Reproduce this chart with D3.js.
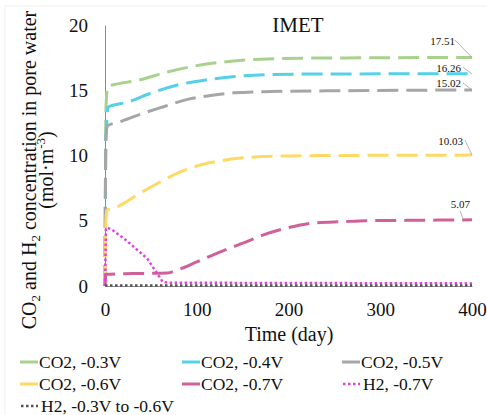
<!DOCTYPE html>
<html>
<head>
<meta charset="utf-8">
<script src="https://cdn.jsdelivr.net/npm/d3@7"></script>
<style>
  html, body { margin: 0; padding: 0; background: #fff; }
  svg { display: block; }
</style>
</head>
<body>
<svg id="chart" width="487" height="415"></svg>
<script>
// ---------------- data ----------------
const xTicks = [0, 100, 200, 300, 400];
const yTicks = [0, 5, 10, 15, 20];

const co2_03 = [[0,0],[1,13.5],[3,15.3],[8,15.4],[38,15.8],[68,16.4],[104,16.93],[140,17.24],[170,17.38],[220,17.46],[400,17.51]];
const co2_04 = [[0,0],[1,11.2],[2,12.7],[3,13.7],[25,14.1],[49,14.75],[76,15.35],[111,15.8],[147,16.08],[180,16.2],[250,16.25],[400,16.26]];
const co2_05 = [[0,0],[1,11.4],[3,12.3],[15,12.55],[36,13.1],[62,13.7],[90,14.3],[115,14.6],[140,14.8],[180,14.9],[250,14.96],[400,15.02]];
const co2_06 = [[0,0],[1,5.0],[2,5.8],[13,6.05],[38,7.1],[60,7.97],[82,8.74],[104,9.27],[125,9.58],[147,9.8],[166,9.9],[200,9.97],[250,10.0],[400,10.03]];
const co2_07 = [[0,0],[1,0.9],[30,0.95],[68,1.0],[78,1.2],[100,1.84],[125,2.6],[158,3.5],[172,3.9],[198,4.44],[227,4.83],[259,4.93],[285,5.0],[330,5.03],[400,5.07]];
const h2_07  = [[0,0],[1,4.45],[5,4.4],[9,4.25],[24,3.45],[46,2.1],[63,0.31],[70,0.25],[400,0.2]];
const h2_rest = [[0,0.03],[400,0.03]];

const seriesNames = ["CO2, -0.3V","CO2, -0.4V","CO2, -0.5V","CO2, -0.6V","CO2, -0.7V","H2, -0.7V","H2, -0.3V to -0.6V"];
const seriesData  = [co2_03, co2_04, co2_05, co2_06, co2_07, h2_07, h2_rest];
const seriesColors = ["#a9d18e","#55d0e6","#a6a6a6","#ffd966","#d0609a","#e040e0","#555555"];
const seriesDotted = [false,false,false,false,false,true,true];

const endLabels = ["17.51","16.26","15.02","10.03","5.07"];
// label offsets relative to each series' end point (text end x, baseline y, leader start x,y, leader end x,y)
const labelOffsets = [
  [-17,-12.5,-17,-17.5,0,0],
  [-11,-2,-9,-6.5,0,0],
  [-11,-3,-9,-7,0,0],
  [-9,-10,-7,-15,0,0],
  [-2,-12,-12,-9,-9,-1]
];

const SERIF = "'Liberation Serif', 'DejaVu Serif', serif";

// ---------------- chart ----------------
const svg = d3.select("#chart");
svg.append("rect").attr("x",5).attr("y",6).attr("width",490).attr("height",420)
   .attr("fill","none").attr("stroke","#efefef");

const x = d3.scaleLinear().domain([0,400]).range([105,472]);
const y = d3.scaleLinear().domain([0,20]).range([286,25]);

// axes
const xAxis = svg.append("g").attr("transform",`translate(0,${y(0)})`)
  .call(d3.axisBottom(x).tickValues(xTicks).tickSize(0).tickPadding(17));
xAxis.select(".domain").attr("stroke","#8c8c8c").attr("stroke-width",1);
xAxis.selectAll("text").attr("font-size",19).attr("fill","#111");

const yAxis = svg.append("g").attr("transform",`translate(${x(0)},0)`)
  .call(d3.axisLeft(y).tickValues(yTicks).tickSize(0).tickPadding(17));
yAxis.select(".domain").attr("stroke","#8c8c8c").attr("stroke-width",1);
yAxis.selectAll("text").attr("font-size",19).attr("fill","#111");

// lines
const lineSmooth = d3.line().x(d=>x(d[0])).y(d=>y(d[1])).curve(d3.curveMonotoneX);
const lineLin = d3.line().x(d=>x(d[0])).y(d=>y(d[1]));
seriesData.forEach((data,i)=>{
  const p = svg.append("path")
    .attr("d", seriesDotted[i] ? lineLin(data) : lineSmooth(data))
    .attr("fill","none")
    .attr("stroke", seriesColors[i]);
  if (seriesDotted[i]) {
    p.attr("stroke-width",2.5).attr("stroke-dasharray","2.5,2.5");
  } else {
    p.attr("stroke-width",3).attr("stroke-dasharray","21,8");
  }
});

// end labels with leader lines
endLabels.forEach((lab,i)=>{
  const d = seriesData[i][seriesData[i].length-1];
  const ex = x(d[0]), ey = y(d[1]);
  const o = labelOffsets[i];
  svg.append("line")
    .attr("x1",ex+o[2]).attr("y1",ey+o[3]).attr("x2",ex+o[4]).attr("y2",ey+o[5])
    .attr("stroke","#a0a0a0").attr("stroke-width",0.8);
  svg.append("text").attr("x",ex+o[0]).attr("y",ey+o[1])
    .attr("text-anchor","end").attr("font-size",11).text(lab);
});

// title
svg.append("text").attr("x",298).attr("y",32).attr("text-anchor","middle")
  .attr("font-size",21).text("IMET");

// x axis title
svg.append("text").attr("x",289).attr("y",341).attr("text-anchor","middle")
  .attr("font-size",20).text("Time (day)");

// y axis title
const yt = svg.append("g").attr("transform","translate(0,170) rotate(-90)");
const t1 = yt.append("text").attr("x",0).attr("y",36).attr("text-anchor","middle").attr("font-size",20);
t1.append("tspan").text("CO");
t1.append("tspan").attr("font-size",13).attr("dy",4).text("2");
t1.append("tspan").attr("dy",-4).text(" and H");
t1.append("tspan").attr("font-size",13).attr("dy",4).text("2");
t1.append("tspan").attr("dy",-4).text(" concentration in pore water");
const t2 = yt.append("text").attr("x",0).attr("y",53).attr("text-anchor","middle").attr("font-size",20);
t2.append("tspan").text("(mol·m");
t2.append("tspan").attr("font-size",13).attr("dy",-8).text("-3");
t2.append("tspan").attr("dy",8).text(")");

// legend
const legCols = [20,182,342];
const legRows = [362,384,406];
seriesNames.forEach((name,i)=>{
  const lx = legCols[i%3], ly = legRows[Math.floor(i/3)];
  const sw = svg.append("line").attr("x1",lx).attr("x2",lx+18).attr("y1",ly).attr("y2",ly)
    .attr("stroke",seriesColors[i]);
  if (seriesDotted[i]) sw.attr("stroke-width",2.5).attr("stroke-dasharray","2.5,2.5").attr("x1",lx+1);
  else sw.attr("stroke-width",3);
  svg.append("text").attr("x",lx+19 + (seriesDotted[i]?2:0)).attr("y",ly+5.5)
    .attr("font-size",17.5).text(name);
});

// apply serif font to every text element inline
svg.selectAll("g").attr("font-family", null);
svg.selectAll("text").style("font-family", SERIF).style("fill", "#111");
</script>
</body>
</html>
